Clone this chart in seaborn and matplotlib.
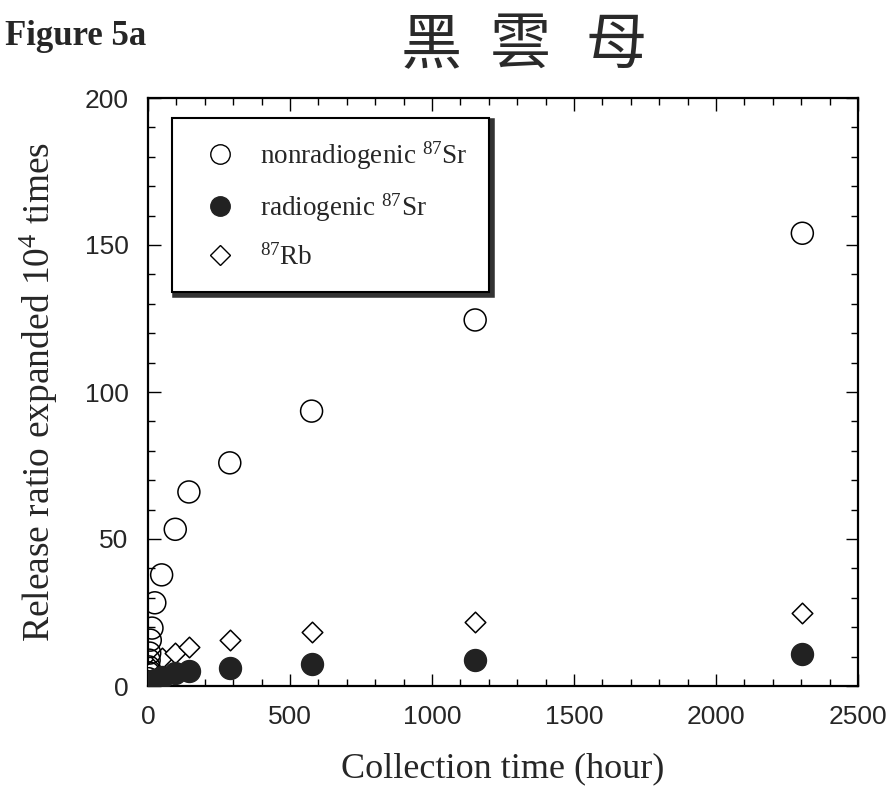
import matplotlib
matplotlib.use("Agg")
import matplotlib.pyplot as plt
import seaborn as sns
import pandas as pd
from matplotlib.ticker import MultipleLocator
from matplotlib.lines import Line2D

# ---- data ----
hours = [1, 2, 3, 4, 6, 8, 14, 24, 48, 96, 144, 288, 576, 1152, 2304]
nonradiogenic_sr = [2.5, 4.5, 6.5, 8.8, 11.2, 15.6, 19.7, 28.3, 37.8, 53.3, 66.0, 75.9, 93.5, 124.5, 154.0]
radiogenic_sr = [0.3, 0.5, 0.7, 0.9, 1.1, 1.4, 1.7, 2.2, 3.0, 4.4, 5.2, 6.1, 7.5, 8.8, 10.9]
rb87 = [1.0, 1.6, 2.2, 2.8, 3.5, 4.2, 5.0, 6.5, 9.5, 11.2, 13.4, 15.6, 18.4, 21.8, 24.8]
series_labels = [r"nonradiogenic $^{87}$Sr", r"radiogenic $^{87}$Sr", r"$^{87}$Rb"]
x_ticks = [0, 500, 1000, 1500, 2000, 2500]
y_ticks = [0, 50, 100, 150, 200]

sns.set_theme(style="ticks")
plt.rcParams["font.family"] = ["Liberation Serif", "DejaVu Serif"]
plt.rcParams["mathtext.fontset"] = "custom"
plt.rcParams["mathtext.rm"] = "Liberation Serif"
plt.rcParams["mathtext.it"] = "Liberation Serif:italic"
plt.rcParams["mathtext.bf"] = "Liberation Serif:bold"

df = pd.DataFrame({"hours": hours, "nonrad": nonradiogenic_sr,
                   "rad": radiogenic_sr, "rb": rb87})

fig = plt.figure(figsize=(8.87, 7.91), dpi=100)
ax = fig.add_axes([148/887, 1-686/791, 710/887, 588/791])

sns.scatterplot(data=df, x="hours", y="rb", ax=ax, marker="D", s=110,
                facecolor="white", edgecolor="black", linewidth=1.1, zorder=3)
sns.scatterplot(data=df, x="hours", y="nonrad", ax=ax, marker="o", s=250,
                facecolor="none", edgecolor="black", linewidth=1.1, zorder=4)
sns.scatterplot(data=df, x="hours", y="rad", ax=ax, marker="o", s=250,
                facecolor="#222222", edgecolor="#222222", linewidth=1.0, zorder=5)

ax.set_xlim(0, 2500)
ax.set_ylim(0, 200)
ax.set_xticks(x_ticks)
ax.set_yticks(y_ticks)
ax.xaxis.set_minor_locator(MultipleLocator(100))
ax.yaxis.set_minor_locator(MultipleLocator(10))
ax.tick_params(which="both", direction="in", top=True, right=True, width=1.0, color="black")
ax.tick_params(which="major", length=9, labelsize=19, pad=14)
ax.tick_params(which="minor", length=5)
for lab in ax.get_xticklabels() + ax.get_yticklabels():
    lab.set_family(["Liberation Sans", "DejaVu Sans"])
for sp in ax.spines.values():
    sp.set_linewidth(1.6)
    sp.set_color("black")

ax.set_xlabel("Collection time (hour)", fontsize=26)
ax.set_ylabel(r"Release ratio expanded 10$^{4}$ times", fontsize=27)
ax.xaxis.set_label_coords(0.5, -0.112)
ax.yaxis.set_label_coords(-0.124, 0.5)

handles = [
    Line2D([], [], linestyle="none", marker="o", markersize=14, markerfacecolor="white",
           markeredgecolor="black", markeredgewidth=1.0),
    Line2D([], [], linestyle="none", marker="o", markersize=14, markerfacecolor="#222222",
           markeredgecolor="#222222"),
    Line2D([], [], linestyle="none", marker="D", markersize=10, markerfacecolor="white",
           markeredgecolor="black", markeredgewidth=1.0),
]
leg = ax.legend(handles, series_labels, loc="upper left", bbox_to_anchor=(0.034, 0.966),
                borderaxespad=0, fontsize=19.5, frameon=True, fancybox=False,
                shadow={"color": "#333333", "alpha": 1, "linewidth": 4},
                borderpad=0.8, labelspacing=0.72, handlelength=1.9, handletextpad=0.55)
leg.get_frame().set_edgecolor("black")
leg.get_frame().set_linewidth(1.5)

fig.text(0.006, 0.975, "Figure 5a", fontsize=25, fontweight="bold", va="top", ha="left")
cjk = ["Noto Sans CJK TC", "DejaVu Sans"]
for xpos, ch in zip([0.452, 0.552, 0.66], ["黑", "雲", "母"]):
    fig.text(xpos, 0.982, ch, fontsize=44, va="top", ha="left",
             family=cjk, color="#2a2a2a", fontweight="light")

fig.savefig("out.png", dpi=100, facecolor="white")
